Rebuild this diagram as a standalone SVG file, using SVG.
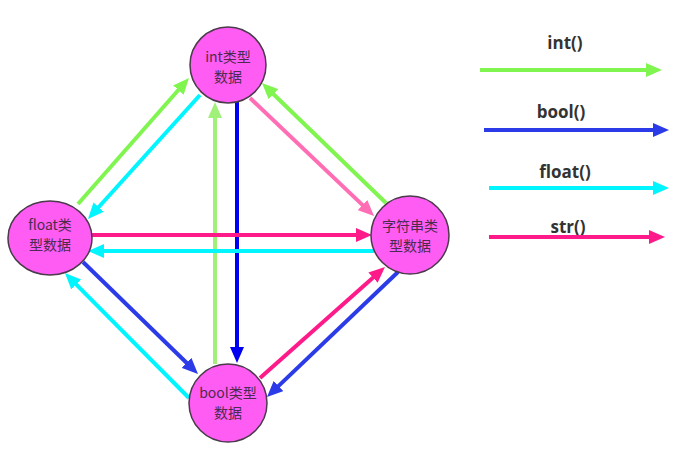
<svg xmlns="http://www.w3.org/2000/svg" width="680" height="457" viewBox="0 0 680 457">
<style>
.node{fill:#ff5cf4;stroke:#4a3a4a;stroke-width:1.5}
.nt{font-family:"Noto Sans CJK SC","Noto Sans",sans-serif;font-size:14px;fill:#4d2b4d;text-anchor:middle}
.lt{font-family:"Open Sans","Noto Sans",sans-serif;font-size:17px;font-weight:bold;fill:#333;text-anchor:middle}
.c{stroke-width:4;fill:none}
.g{stroke:#80f550}.lg{stroke:#a0f07a}.b{stroke:#2b3be8}.db{stroke:#0000f0}.cy{stroke:#00f5ff}.p{stroke:#ff1a8a}.lp{stroke:#ff6eb4}
</style>
<defs>
<marker id="ag" markerUnits="userSpaceOnUse" markerWidth="16" markerHeight="14" refX="10" refY="7" orient="auto"><path d="M0,0L16,7L0,14z" fill="#80f550"/></marker>
<marker id="alg" markerUnits="userSpaceOnUse" markerWidth="16" markerHeight="14" refX="10" refY="7" orient="auto"><path d="M0,0L16,7L0,14z" fill="#a0f07a"/></marker>
<marker id="ab" markerUnits="userSpaceOnUse" markerWidth="16" markerHeight="14" refX="10" refY="7" orient="auto"><path d="M0,0L16,7L0,14z" fill="#2b3be8"/></marker>
<marker id="adb" markerUnits="userSpaceOnUse" markerWidth="16" markerHeight="14" refX="10" refY="7" orient="auto"><path d="M0,0L16,7L0,14z" fill="#0000f0"/></marker>
<marker id="acy" markerUnits="userSpaceOnUse" markerWidth="16" markerHeight="14" refX="10" refY="7" orient="auto"><path d="M0,0L16,7L0,14z" fill="#00f5ff"/></marker>
<marker id="ap" markerUnits="userSpaceOnUse" markerWidth="16" markerHeight="14" refX="10" refY="7" orient="auto"><path d="M0,0L16,7L0,14z" fill="#ff1a8a"/></marker>
<marker id="alp" markerUnits="userSpaceOnUse" markerWidth="16" markerHeight="14" refX="10" refY="7" orient="auto"><path d="M0,0L16,7L0,14z" fill="#ff6eb4"/></marker>
</defs>
<rect width="680" height="457" fill="#fff"/>
<g id="connectors">
<line class="c g" x1="78" y1="204" x2="185" y2="82.5" marker-end="url(#ag)"/>
<line class="c cy" x1="200" y1="95" x2="92" y2="214.5" marker-end="url(#acy)"/>
<line class="c db" x1="237" y1="102" x2="237" y2="357" marker-end="url(#adb)"/>
<line class="c lg" x1="215" y1="364" x2="215" y2="108" marker-end="url(#alg)"/>
<line class="c lp" x1="250" y1="98" x2="369.7" y2="211.9" marker-end="url(#alp)"/>
<line class="c g" x1="386" y1="203" x2="266.3" y2="87.2" marker-end="url(#ag)"/>
<line class="c p" x1="91" y1="235" x2="366" y2="235" marker-end="url(#ap)"/>
<line class="c cy" x1="374" y1="251" x2="94" y2="251" marker-end="url(#acy)"/>
<line class="c b" x1="83" y1="262" x2="193.7" y2="369.8" marker-end="url(#ab)"/>
<line class="c cy" x1="189" y1="398" x2="69.2" y2="277.3" marker-end="url(#acy)"/>
<line class="c p" x1="260" y1="378" x2="380.5" y2="271" marker-end="url(#ap)"/>
<line class="c b" x1="398" y1="272" x2="271.3" y2="392.9" marker-end="url(#ab)"/>
</g>
<g id="legend">
<text class="lt" x="565" y="49">int()</text>
<line class="c g" x1="480" y1="70" x2="656" y2="70" marker-end="url(#ag)"/>
<text class="lt" x="561" y="118">bool()</text>
<line class="c b" x1="484" y1="130" x2="663" y2="130" marker-end="url(#ab)"/>
<text class="lt" x="565" y="178">float()</text>
<line class="c cy" x1="489" y1="188" x2="663" y2="188" marker-end="url(#acy)"/>
<text class="lt" x="568" y="233">str()</text>
<line class="c p" x1="489" y1="237" x2="659" y2="237" marker-end="url(#ap)"/>
</g>
<g id="node-int">
<circle class="node" cx="228" cy="65" r="38"/>
<text class="nt" x="228" y="62">int类型</text>
<text class="nt" x="228" y="82">数据</text>
</g>
<g id="node-float">
<ellipse class="node" cx="50" cy="238" rx="42" ry="37"/>
<text class="nt" x="50" y="230">float类</text>
<text class="nt" x="50" y="250">型数据</text>
</g>
<g id="node-str">
<circle class="node" cx="410" cy="235" r="39"/>
<text class="nt" x="410" y="231">字符串类</text>
<text class="nt" x="410" y="251">型数据</text>
</g>
<g id="node-bool">
<circle class="node" cx="228" cy="403" r="39"/>
<text class="nt" x="228" y="398">bool类型</text>
<text class="nt" x="228" y="418">数据</text>
</g>
</svg>
